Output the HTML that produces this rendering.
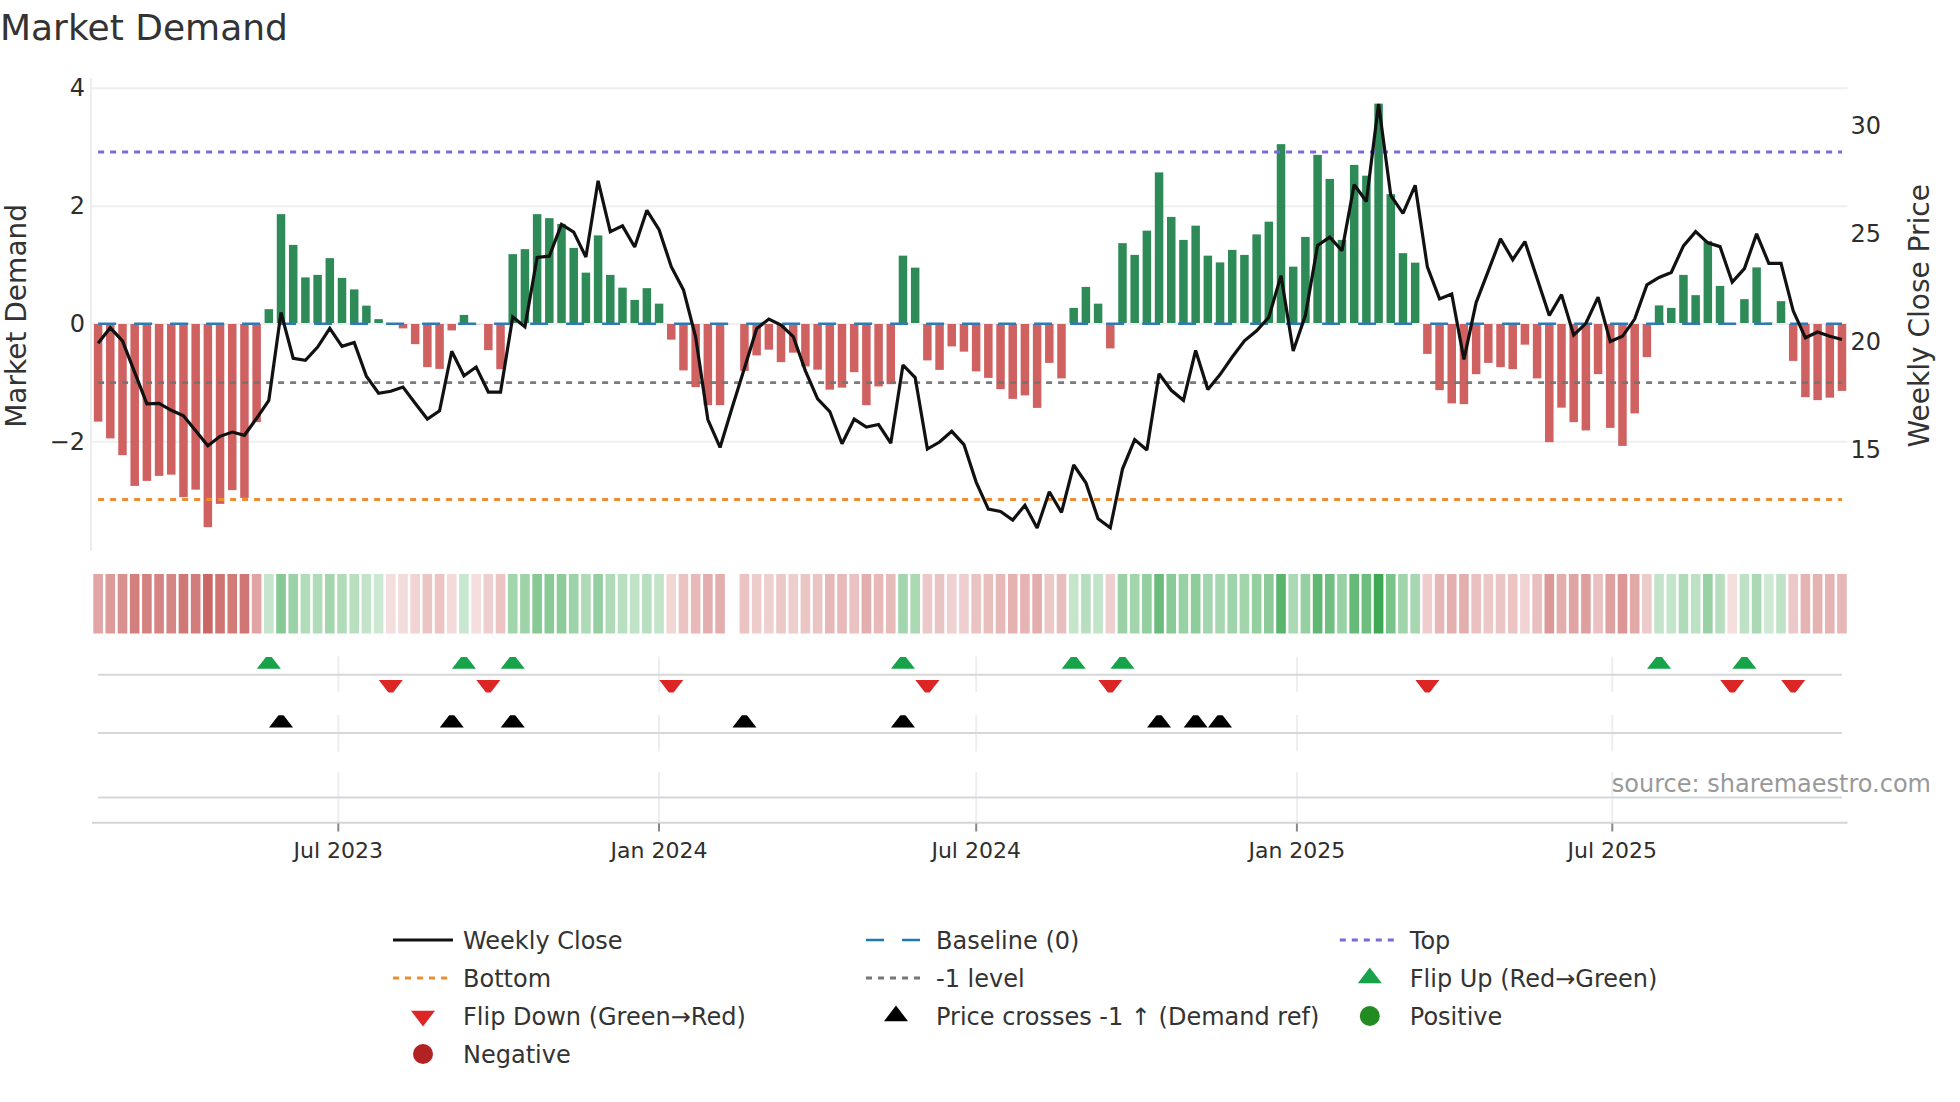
<!DOCTYPE html><html><head><meta charset="utf-8"><title>Market Demand</title><style>html,body{margin:0;padding:0;background:#fff}svg{display:block}text{font-family:"DejaVu Sans","Liberation Sans",sans-serif}</style></head><body>
<svg width="1960" height="1102" viewBox="0 0 1960 1102">
<rect width="1960" height="1102" fill="#fff"/>
<line x1="92" x2="1847.5" y1="88.25" y2="88.25" stroke="#edeff2" stroke-width="2"/>
<line x1="92" x2="1847.5" y1="206.2" y2="206.2" stroke="#edeff2" stroke-width="2"/>
<line x1="92" x2="1847.5" y1="323.9" y2="323.9" stroke="#edeff2" stroke-width="2"/>
<line x1="92" x2="1847.5" y1="441.7" y2="441.7" stroke="#edeff2" stroke-width="2"/>
<line x1="91" x2="91" y1="78" y2="551" stroke="#ededf0" stroke-width="2"/>
<g fill="#2e8b57"><rect x="264.58" y="309.15" width="8.5" height="13.85"/><rect x="276.77" y="214.15" width="8.5" height="108.85"/><rect x="288.97" y="244.90" width="8.5" height="78.10"/><rect x="301.16" y="277.40" width="8.5" height="45.60"/><rect x="313.36" y="274.90" width="8.5" height="48.10"/><rect x="325.56" y="258.15" width="8.5" height="64.85"/><rect x="337.75" y="277.90" width="8.5" height="45.10"/><rect x="349.95" y="289.40" width="8.5" height="33.60"/><rect x="362.14" y="305.65" width="8.5" height="17.35"/><rect x="374.34" y="319.15" width="8.5" height="3.85"/><rect x="459.70" y="314.90" width="8.5" height="8.10"/><rect x="508.48" y="254.15" width="8.5" height="68.85"/><rect x="520.67" y="249.15" width="8.5" height="73.85"/><rect x="532.87" y="214.15" width="8.5" height="108.85"/><rect x="545.07" y="218.15" width="8.5" height="104.85"/><rect x="557.26" y="223.90" width="8.5" height="99.10"/><rect x="569.46" y="247.90" width="8.5" height="75.10"/><rect x="581.65" y="272.65" width="8.5" height="50.35"/><rect x="593.85" y="235.40" width="8.5" height="87.60"/><rect x="606.04" y="274.90" width="8.5" height="48.10"/><rect x="618.24" y="287.65" width="8.5" height="35.35"/><rect x="630.43" y="299.90" width="8.5" height="23.10"/><rect x="642.62" y="288.15" width="8.5" height="34.85"/><rect x="654.82" y="303.65" width="8.5" height="19.35"/><rect x="898.72" y="255.65" width="8.5" height="67.35"/><rect x="910.92" y="267.65" width="8.5" height="55.35"/><rect x="1069.45" y="307.90" width="8.5" height="15.10"/><rect x="1081.64" y="286.90" width="8.5" height="36.10"/><rect x="1093.84" y="303.65" width="8.5" height="19.35"/><rect x="1118.23" y="243.15" width="8.5" height="79.85"/><rect x="1130.42" y="254.90" width="8.5" height="68.10"/><rect x="1142.62" y="230.65" width="8.5" height="92.35"/><rect x="1154.81" y="172.40" width="8.5" height="150.60"/><rect x="1167.01" y="216.90" width="8.5" height="106.10"/><rect x="1179.20" y="239.90" width="8.5" height="83.10"/><rect x="1191.40" y="225.65" width="8.5" height="97.35"/><rect x="1203.60" y="255.65" width="8.5" height="67.35"/><rect x="1215.79" y="262.40" width="8.5" height="60.60"/><rect x="1227.98" y="249.90" width="8.5" height="73.10"/><rect x="1240.18" y="254.90" width="8.5" height="68.10"/><rect x="1252.38" y="234.40" width="8.5" height="88.60"/><rect x="1264.57" y="221.65" width="8.5" height="101.35"/><rect x="1276.76" y="144.15" width="8.5" height="178.85"/><rect x="1288.96" y="266.65" width="8.5" height="56.35"/><rect x="1301.15" y="236.90" width="8.5" height="86.10"/><rect x="1313.35" y="154.90" width="8.5" height="168.10"/><rect x="1325.54" y="178.90" width="8.5" height="144.10"/><rect x="1337.74" y="239.90" width="8.5" height="83.10"/><rect x="1349.93" y="164.90" width="8.5" height="158.10"/><rect x="1362.13" y="175.65" width="8.5" height="147.35"/><rect x="1374.33" y="103.65" width="8.5" height="219.35"/><rect x="1386.52" y="194.15" width="8.5" height="128.85"/><rect x="1398.71" y="253.15" width="8.5" height="69.85"/><rect x="1410.91" y="262.65" width="8.5" height="60.35"/><rect x="1654.81" y="305.40" width="8.5" height="17.60"/><rect x="1667.00" y="307.90" width="8.5" height="15.10"/><rect x="1679.20" y="274.90" width="8.5" height="48.10"/><rect x="1691.39" y="295.15" width="8.5" height="27.85"/><rect x="1703.59" y="241.15" width="8.5" height="81.85"/><rect x="1715.78" y="285.90" width="8.5" height="37.10"/><rect x="1740.17" y="299.15" width="8.5" height="23.85"/><rect x="1752.37" y="267.40" width="8.5" height="55.60"/><rect x="1764.57" y="322.70" width="8.5" height="0.30"/><rect x="1776.76" y="301.15" width="8.5" height="21.85"/></g>
<g fill="#cd5c5c" fill-opacity="0.97"><rect x="93.85" y="324.0" width="8.5" height="97.65"/><rect x="106.04" y="324.0" width="8.5" height="114.40"/><rect x="118.24" y="324.0" width="8.5" height="131.15"/><rect x="130.44" y="324.0" width="8.5" height="161.90"/><rect x="142.63" y="324.0" width="8.5" height="156.90"/><rect x="154.82" y="324.0" width="8.5" height="151.90"/><rect x="167.02" y="324.0" width="8.5" height="150.65"/><rect x="179.22" y="324.0" width="8.5" height="173.15"/><rect x="191.41" y="324.0" width="8.5" height="165.65"/><rect x="203.60" y="324.0" width="8.5" height="203.15"/><rect x="215.80" y="324.0" width="8.5" height="179.90"/><rect x="228.00" y="324.0" width="8.5" height="166.15"/><rect x="240.19" y="324.0" width="8.5" height="173.90"/><rect x="252.38" y="324.0" width="8.5" height="98.15"/><rect x="386.53" y="324.0" width="8.5" height="0.50"/><rect x="398.73" y="324.0" width="8.5" height="4.40"/><rect x="410.92" y="324.0" width="8.5" height="20.15"/><rect x="423.12" y="324.0" width="8.5" height="43.15"/><rect x="435.31" y="324.0" width="8.5" height="44.90"/><rect x="447.50" y="324.0" width="8.5" height="6.40"/><rect x="471.89" y="324.0" width="8.5" height="0.20"/><rect x="484.09" y="324.0" width="8.5" height="26.15"/><rect x="496.28" y="324.0" width="8.5" height="45.15"/><rect x="667.01" y="324.0" width="8.5" height="15.65"/><rect x="679.21" y="324.0" width="8.5" height="46.40"/><rect x="691.41" y="324.0" width="8.5" height="63.15"/><rect x="703.60" y="324.0" width="8.5" height="81.15"/><rect x="715.80" y="324.0" width="8.5" height="81.15"/><rect x="740.19" y="324.0" width="8.5" height="46.90"/><rect x="752.38" y="324.0" width="8.5" height="31.40"/><rect x="764.58" y="324.0" width="8.5" height="25.65"/><rect x="776.77" y="324.0" width="8.5" height="38.15"/><rect x="788.97" y="324.0" width="8.5" height="28.65"/><rect x="801.16" y="324.0" width="8.5" height="42.40"/><rect x="813.36" y="324.0" width="8.5" height="45.65"/><rect x="825.55" y="324.0" width="8.5" height="65.65"/><rect x="837.75" y="324.0" width="8.5" height="63.65"/><rect x="849.94" y="324.0" width="8.5" height="48.15"/><rect x="862.13" y="324.0" width="8.5" height="81.15"/><rect x="874.33" y="324.0" width="8.5" height="62.40"/><rect x="886.53" y="324.0" width="8.5" height="60.15"/><rect x="923.11" y="324.0" width="8.5" height="36.40"/><rect x="935.31" y="324.0" width="8.5" height="45.90"/><rect x="947.50" y="324.0" width="8.5" height="22.40"/><rect x="959.70" y="324.0" width="8.5" height="27.65"/><rect x="971.89" y="324.0" width="8.5" height="47.40"/><rect x="984.09" y="324.0" width="8.5" height="53.90"/><rect x="996.28" y="324.0" width="8.5" height="65.15"/><rect x="1008.48" y="324.0" width="8.5" height="74.90"/><rect x="1020.67" y="324.0" width="8.5" height="71.40"/><rect x="1032.87" y="324.0" width="8.5" height="83.90"/><rect x="1045.06" y="324.0" width="8.5" height="38.90"/><rect x="1057.25" y="324.0" width="8.5" height="54.40"/><rect x="1106.04" y="324.0" width="8.5" height="24.40"/><rect x="1423.11" y="324.0" width="8.5" height="29.90"/><rect x="1435.30" y="324.0" width="8.5" height="66.15"/><rect x="1447.49" y="324.0" width="8.5" height="79.40"/><rect x="1459.69" y="324.0" width="8.5" height="80.15"/><rect x="1471.88" y="324.0" width="8.5" height="50.15"/><rect x="1484.08" y="324.0" width="8.5" height="38.90"/><rect x="1496.27" y="324.0" width="8.5" height="43.15"/><rect x="1508.47" y="324.0" width="8.5" height="45.15"/><rect x="1520.66" y="324.0" width="8.5" height="20.65"/><rect x="1532.86" y="324.0" width="8.5" height="54.40"/><rect x="1545.05" y="324.0" width="8.5" height="118.15"/><rect x="1557.25" y="324.0" width="8.5" height="83.65"/><rect x="1569.44" y="324.0" width="8.5" height="98.15"/><rect x="1581.64" y="324.0" width="8.5" height="106.40"/><rect x="1593.84" y="324.0" width="8.5" height="50.15"/><rect x="1606.03" y="324.0" width="8.5" height="103.90"/><rect x="1618.22" y="324.0" width="8.5" height="121.90"/><rect x="1630.42" y="324.0" width="8.5" height="89.40"/><rect x="1642.62" y="324.0" width="8.5" height="33.15"/><rect x="1727.98" y="324.0" width="8.5" height="0.30"/><rect x="1788.95" y="324.0" width="8.5" height="36.90"/><rect x="1801.15" y="324.0" width="8.5" height="73.15"/><rect x="1813.35" y="324.0" width="8.5" height="76.15"/><rect x="1825.54" y="324.0" width="8.5" height="73.65"/><rect x="1837.73" y="324.0" width="8.5" height="66.90"/></g>
<line x1="98.1" x2="1841.985" y1="382.7" y2="382.7" stroke="#737373" stroke-opacity="0.95" stroke-width="2.7" stroke-dasharray="6,6"/>
<line x1="98.1" x2="1841.985" y1="323.7" y2="323.7" stroke="#2f7ab5" stroke-width="2.4" stroke-dasharray="18,18"/>
<line x1="98.1" x2="1841.985" y1="152" y2="152" stroke="#7b68d9" stroke-width="3" stroke-dasharray="6,6"/>
<line x1="98.1" x2="1841.985" y1="499.5" y2="499.5" stroke="#f08c2e" stroke-width="3" stroke-dasharray="6,6"/>
<polyline points="98.10,343.30 110.29,327.80 122.49,340.80 134.69,372.30 146.88,403.80 159.07,403.30 171.27,410.30 183.47,415.80 195.66,430.80 207.85,445.80 220.05,436.30 232.25,432.05 244.44,435.30 256.63,418.30 268.83,400.30 281.02,312.50 293.22,358.30 305.41,360.30 317.61,347.05 329.81,328.30 342.00,346.30 354.20,342.55 366.39,376.30 378.59,393.30 390.78,391.30 402.98,387.05 415.17,403.30 427.37,419.05 439.56,410.80 451.75,351.25 463.95,375.80 476.14,367.05 488.34,392.05 500.53,392.05 512.73,317.05 524.92,326.80 537.12,257.40 549.32,256.15 561.51,224.40 573.71,232.15 585.90,257.05 598.10,180.85 610.29,231.65 622.49,225.90 634.68,247.05 646.88,210.35 659.07,229.65 671.26,266.65 683.46,289.90 695.66,337.05 707.85,419.55 720.05,447.45 732.24,407.30 744.44,368.30 756.63,328.80 768.83,319.05 781.02,325.05 793.22,336.55 805.41,370.80 817.61,398.80 829.80,411.55 842.00,443.70 854.19,419.05 866.38,427.05 878.58,424.55 890.78,443.20 902.97,365.00 915.17,377.55 927.36,449.05 939.56,442.05 951.75,431.30 963.95,444.55 976.14,482.05 988.34,509.05 1000.53,511.55 1012.73,520.05 1024.92,505.30 1037.12,527.95 1049.31,491.75 1061.50,512.45 1073.70,465.00 1085.89,482.80 1098.09,518.80 1110.29,527.80 1122.48,469.05 1134.67,439.55 1146.87,449.95 1159.06,373.75 1171.26,390.30 1183.45,400.30 1195.65,350.50 1207.85,389.45 1220.04,374.55 1232.23,357.05 1244.43,340.80 1256.62,330.80 1268.82,317.30 1281.01,275.60 1293.21,350.95 1305.40,315.30 1317.60,245.40 1329.79,237.15 1341.99,250.80 1354.18,184.60 1366.38,201.55 1378.58,103.85 1390.77,195.40 1402.96,213.30 1415.16,185.35 1427.36,266.90 1439.55,298.90 1451.74,293.90 1463.94,359.45 1476.13,302.55 1488.33,270.90 1500.52,238.85 1512.72,259.65 1524.91,241.60 1537.11,278.40 1549.30,315.45 1561.50,294.60 1573.69,335.05 1585.89,323.30 1598.09,297.10 1610.28,341.55 1622.47,336.30 1634.67,319.05 1646.87,284.90 1659.06,277.40 1671.25,272.40 1683.45,245.90 1695.64,231.65 1707.84,242.90 1720.03,246.65 1732.23,282.15 1744.42,268.65 1756.62,233.85 1768.82,263.40 1781.01,263.40 1793.20,310.80 1805.40,337.80 1817.60,332.05 1829.79,336.30 1841.98,339.55" fill="none" stroke="#111" stroke-width="3.2" stroke-linejoin="miter" stroke-miterlimit="2"/>
<g><rect x="93.30" y="574" width="9.6" height="59.5" fill="rgb(224, 165, 164)"/><rect x="105.49" y="574" width="9.6" height="59.5" fill="rgb(220, 155, 153)"/><rect x="117.69" y="574" width="9.6" height="59.5" fill="rgb(217, 145, 143)"/><rect x="129.88" y="574" width="9.6" height="59.5" fill="rgb(211, 127, 125)"/><rect x="142.08" y="574" width="9.6" height="59.5" fill="rgb(212, 130, 128)"/><rect x="154.27" y="574" width="9.6" height="59.5" fill="rgb(213, 132, 131)"/><rect x="166.47" y="574" width="9.6" height="59.5" fill="rgb(213, 133, 132)"/><rect x="178.66" y="574" width="9.6" height="59.5" fill="rgb(208, 120, 118)"/><rect x="190.86" y="574" width="9.6" height="59.5" fill="rgb(210, 124, 123)"/><rect x="203.05" y="574" width="9.6" height="59.5" fill="rgb(202, 102, 100)"/><rect x="215.25" y="574" width="9.6" height="59.5" fill="rgb(207, 116, 114)"/><rect x="227.44" y="574" width="9.6" height="59.5" fill="rgb(210, 124, 122)"/><rect x="239.64" y="574" width="9.6" height="59.5" fill="rgb(208, 119, 118)"/><rect x="251.83" y="574" width="9.6" height="59.5" fill="rgb(224, 164, 163)"/><rect x="264.03" y="574" width="9.6" height="59.5" fill="rgb(198, 229, 204)"/><rect x="276.22" y="574" width="9.6" height="59.5" fill="rgb(135, 201, 149)"/><rect x="288.42" y="574" width="9.6" height="59.5" fill="rgb(155, 210, 167)"/><rect x="300.61" y="574" width="9.6" height="59.5" fill="rgb(177, 220, 186)"/><rect x="312.81" y="574" width="9.6" height="59.5" fill="rgb(175, 219, 184)"/><rect x="325.00" y="574" width="9.6" height="59.5" fill="rgb(164, 214, 174)"/><rect x="337.20" y="574" width="9.6" height="59.5" fill="rgb(177, 220, 186)"/><rect x="349.40" y="574" width="9.6" height="59.5" fill="rgb(185, 223, 193)"/><rect x="361.59" y="574" width="9.6" height="59.5" fill="rgb(195, 228, 202)"/><rect x="373.79" y="574" width="9.6" height="59.5" fill="rgb(204, 232, 210)"/><rect x="385.98" y="574" width="9.6" height="59.5" fill="rgb(244, 223, 222)"/><rect x="398.18" y="574" width="9.6" height="59.5" fill="rgb(243, 220, 220)"/><rect x="410.37" y="574" width="9.6" height="59.5" fill="rgb(240, 211, 210)"/><rect x="422.56" y="574" width="9.6" height="59.5" fill="rgb(235, 197, 196)"/><rect x="434.76" y="574" width="9.6" height="59.5" fill="rgb(235, 196, 195)"/><rect x="446.95" y="574" width="9.6" height="59.5" fill="rgb(243, 219, 219)"/><rect x="459.15" y="574" width="9.6" height="59.5" fill="rgb(201, 231, 208)"/><rect x="471.34" y="574" width="9.6" height="59.5" fill="rgb(244, 223, 222)"/><rect x="483.54" y="574" width="9.6" height="59.5" fill="rgb(238, 207, 207)"/><rect x="495.73" y="574" width="9.6" height="59.5" fill="rgb(235, 196, 195)"/><rect x="507.93" y="574" width="9.6" height="59.5" fill="rgb(161, 213, 172)"/><rect x="520.12" y="574" width="9.6" height="59.5" fill="rgb(158, 211, 169)"/><rect x="532.32" y="574" width="9.6" height="59.5" fill="rgb(135, 201, 149)"/><rect x="544.52" y="574" width="9.6" height="59.5" fill="rgb(138, 202, 151)"/><rect x="556.71" y="574" width="9.6" height="59.5" fill="rgb(141, 204, 154)"/><rect x="568.91" y="574" width="9.6" height="59.5" fill="rgb(157, 211, 168)"/><rect x="581.10" y="574" width="9.6" height="59.5" fill="rgb(174, 218, 183)"/><rect x="593.30" y="574" width="9.6" height="59.5" fill="rgb(149, 207, 161)"/><rect x="605.49" y="574" width="9.6" height="59.5" fill="rgb(175, 219, 184)"/><rect x="617.69" y="574" width="9.6" height="59.5" fill="rgb(183, 223, 192)"/><rect x="629.88" y="574" width="9.6" height="59.5" fill="rgb(192, 226, 199)"/><rect x="642.08" y="574" width="9.6" height="59.5" fill="rgb(184, 223, 192)"/><rect x="654.27" y="574" width="9.6" height="59.5" fill="rgb(194, 228, 201)"/><rect x="666.47" y="574" width="9.6" height="59.5" fill="rgb(241, 214, 213)"/><rect x="678.66" y="574" width="9.6" height="59.5" fill="rgb(234, 195, 194)"/><rect x="690.86" y="574" width="9.6" height="59.5" fill="rgb(231, 185, 184)"/><rect x="703.05" y="574" width="9.6" height="59.5" fill="rgb(227, 175, 174)"/><rect x="715.25" y="574" width="9.6" height="59.5" fill="rgb(227, 175, 174)"/><rect x="739.64" y="574" width="9.6" height="59.5" fill="rgb(234, 195, 194)"/><rect x="751.83" y="574" width="9.6" height="59.5" fill="rgb(237, 204, 203)"/><rect x="764.03" y="574" width="9.6" height="59.5" fill="rgb(239, 208, 207)"/><rect x="776.22" y="574" width="9.6" height="59.5" fill="rgb(236, 200, 199)"/><rect x="788.42" y="574" width="9.6" height="59.5" fill="rgb(238, 206, 205)"/><rect x="800.61" y="574" width="9.6" height="59.5" fill="rgb(235, 198, 197)"/><rect x="812.81" y="574" width="9.6" height="59.5" fill="rgb(234, 196, 195)"/><rect x="825.00" y="574" width="9.6" height="59.5" fill="rgb(230, 184, 183)"/><rect x="837.20" y="574" width="9.6" height="59.5" fill="rgb(231, 185, 184)"/><rect x="849.39" y="574" width="9.6" height="59.5" fill="rgb(234, 194, 193)"/><rect x="861.59" y="574" width="9.6" height="59.5" fill="rgb(227, 175, 174)"/><rect x="873.78" y="574" width="9.6" height="59.5" fill="rgb(231, 186, 185)"/><rect x="885.98" y="574" width="9.6" height="59.5" fill="rgb(231, 187, 186)"/><rect x="898.17" y="574" width="9.6" height="59.5" fill="rgb(162, 213, 173)"/><rect x="910.37" y="574" width="9.6" height="59.5" fill="rgb(170, 217, 180)"/><rect x="922.56" y="574" width="9.6" height="59.5" fill="rgb(236, 201, 200)"/><rect x="934.76" y="574" width="9.6" height="59.5" fill="rgb(234, 196, 195)"/><rect x="946.95" y="574" width="9.6" height="59.5" fill="rgb(239, 209, 209)"/><rect x="959.15" y="574" width="9.6" height="59.5" fill="rgb(238, 206, 206)"/><rect x="971.34" y="574" width="9.6" height="59.5" fill="rgb(234, 195, 194)"/><rect x="983.54" y="574" width="9.6" height="59.5" fill="rgb(233, 191, 190)"/><rect x="995.73" y="574" width="9.6" height="59.5" fill="rgb(230, 184, 183)"/><rect x="1007.93" y="574" width="9.6" height="59.5" fill="rgb(228, 178, 177)"/><rect x="1020.12" y="574" width="9.6" height="59.5" fill="rgb(229, 180, 179)"/><rect x="1032.32" y="574" width="9.6" height="59.5" fill="rgb(227, 173, 172)"/><rect x="1044.51" y="574" width="9.6" height="59.5" fill="rgb(236, 200, 199)"/><rect x="1056.70" y="574" width="9.6" height="59.5" fill="rgb(233, 190, 190)"/><rect x="1068.90" y="574" width="9.6" height="59.5" fill="rgb(197, 229, 203)"/><rect x="1081.10" y="574" width="9.6" height="59.5" fill="rgb(183, 223, 191)"/><rect x="1093.29" y="574" width="9.6" height="59.5" fill="rgb(194, 228, 201)"/><rect x="1105.49" y="574" width="9.6" height="59.5" fill="rgb(239, 208, 208)"/><rect x="1117.68" y="574" width="9.6" height="59.5" fill="rgb(154, 210, 166)"/><rect x="1129.88" y="574" width="9.6" height="59.5" fill="rgb(162, 213, 172)"/><rect x="1142.07" y="574" width="9.6" height="59.5" fill="rgb(146, 206, 158)"/><rect x="1154.26" y="574" width="9.6" height="59.5" fill="rgb(107, 188, 124)"/><rect x="1166.46" y="574" width="9.6" height="59.5" fill="rgb(137, 202, 150)"/><rect x="1178.65" y="574" width="9.6" height="59.5" fill="rgb(152, 209, 164)"/><rect x="1190.85" y="574" width="9.6" height="59.5" fill="rgb(143, 204, 155)"/><rect x="1203.05" y="574" width="9.6" height="59.5" fill="rgb(162, 213, 173)"/><rect x="1215.24" y="574" width="9.6" height="59.5" fill="rgb(167, 215, 177)"/><rect x="1227.43" y="574" width="9.6" height="59.5" fill="rgb(159, 212, 170)"/><rect x="1239.63" y="574" width="9.6" height="59.5" fill="rgb(162, 213, 172)"/><rect x="1251.83" y="574" width="9.6" height="59.5" fill="rgb(148, 207, 160)"/><rect x="1264.02" y="574" width="9.6" height="59.5" fill="rgb(140, 203, 153)"/><rect x="1276.21" y="574" width="9.6" height="59.5" fill="rgb(89, 180, 108)"/><rect x="1288.41" y="574" width="9.6" height="59.5" fill="rgb(170, 217, 179)"/><rect x="1300.61" y="574" width="9.6" height="59.5" fill="rgb(150, 208, 162)"/><rect x="1312.80" y="574" width="9.6" height="59.5" fill="rgb(96, 183, 114)"/><rect x="1324.99" y="574" width="9.6" height="59.5" fill="rgb(112, 190, 128)"/><rect x="1337.19" y="574" width="9.6" height="59.5" fill="rgb(152, 209, 164)"/><rect x="1349.38" y="574" width="9.6" height="59.5" fill="rgb(102, 186, 120)"/><rect x="1361.58" y="574" width="9.6" height="59.5" fill="rgb(109, 189, 126)"/><rect x="1373.78" y="574" width="9.6" height="59.5" fill="rgb(62, 168, 84)"/><rect x="1385.97" y="574" width="9.6" height="59.5" fill="rgb(122, 195, 137)"/><rect x="1398.16" y="574" width="9.6" height="59.5" fill="rgb(161, 212, 171)"/><rect x="1410.36" y="574" width="9.6" height="59.5" fill="rgb(167, 215, 177)"/><rect x="1422.56" y="574" width="9.6" height="59.5" fill="rgb(238, 205, 204)"/><rect x="1434.75" y="574" width="9.6" height="59.5" fill="rgb(230, 183, 183)"/><rect x="1446.94" y="574" width="9.6" height="59.5" fill="rgb(227, 176, 175)"/><rect x="1459.14" y="574" width="9.6" height="59.5" fill="rgb(227, 175, 174)"/><rect x="1471.34" y="574" width="9.6" height="59.5" fill="rgb(234, 193, 192)"/><rect x="1483.53" y="574" width="9.6" height="59.5" fill="rgb(236, 200, 199)"/><rect x="1495.72" y="574" width="9.6" height="59.5" fill="rgb(235, 197, 196)"/><rect x="1507.92" y="574" width="9.6" height="59.5" fill="rgb(235, 196, 195)"/><rect x="1520.12" y="574" width="9.6" height="59.5" fill="rgb(240, 211, 210)"/><rect x="1532.31" y="574" width="9.6" height="59.5" fill="rgb(233, 190, 190)"/><rect x="1544.50" y="574" width="9.6" height="59.5" fill="rgb(220, 153, 151)"/><rect x="1556.70" y="574" width="9.6" height="59.5" fill="rgb(227, 173, 172)"/><rect x="1568.89" y="574" width="9.6" height="59.5" fill="rgb(224, 164, 163)"/><rect x="1581.09" y="574" width="9.6" height="59.5" fill="rgb(222, 160, 158)"/><rect x="1593.29" y="574" width="9.6" height="59.5" fill="rgb(234, 193, 192)"/><rect x="1605.48" y="574" width="9.6" height="59.5" fill="rgb(222, 161, 160)"/><rect x="1617.67" y="574" width="9.6" height="59.5" fill="rgb(219, 150, 149)"/><rect x="1629.87" y="574" width="9.6" height="59.5" fill="rgb(225, 170, 169)"/><rect x="1642.07" y="574" width="9.6" height="59.5" fill="rgb(237, 203, 202)"/><rect x="1654.26" y="574" width="9.6" height="59.5" fill="rgb(195, 228, 202)"/><rect x="1666.45" y="574" width="9.6" height="59.5" fill="rgb(197, 229, 203)"/><rect x="1678.65" y="574" width="9.6" height="59.5" fill="rgb(175, 219, 184)"/><rect x="1690.85" y="574" width="9.6" height="59.5" fill="rgb(188, 225, 196)"/><rect x="1703.04" y="574" width="9.6" height="59.5" fill="rgb(153, 209, 164)"/><rect x="1715.23" y="574" width="9.6" height="59.5" fill="rgb(182, 222, 191)"/><rect x="1727.43" y="574" width="9.6" height="59.5" fill="rgb(244, 223, 222)"/><rect x="1739.62" y="574" width="9.6" height="59.5" fill="rgb(191, 226, 198)"/><rect x="1751.82" y="574" width="9.6" height="59.5" fill="rgb(170, 217, 180)"/><rect x="1764.02" y="574" width="9.6" height="59.5" fill="rgb(207, 233, 212)"/><rect x="1776.21" y="574" width="9.6" height="59.5" fill="rgb(192, 227, 200)"/><rect x="1788.40" y="574" width="9.6" height="59.5" fill="rgb(236, 201, 200)"/><rect x="1800.60" y="574" width="9.6" height="59.5" fill="rgb(229, 179, 178)"/><rect x="1812.80" y="574" width="9.6" height="59.5" fill="rgb(228, 178, 177)"/><rect x="1824.99" y="574" width="9.6" height="59.5" fill="rgb(229, 179, 178)"/><rect x="1837.18" y="574" width="9.6" height="59.5" fill="rgb(230, 183, 182)"/></g>
<line x1="338.3" x2="338.3" y1="656.5" y2="692" stroke="#eceef1" stroke-width="2"/>
<line x1="338.3" x2="338.3" y1="715" y2="751.5" stroke="#eceef1" stroke-width="2"/>
<line x1="338.3" x2="338.3" y1="772" y2="822" stroke="#eceef1" stroke-width="2"/>
<line x1="659" x2="659" y1="656.5" y2="692" stroke="#eceef1" stroke-width="2"/>
<line x1="659" x2="659" y1="715" y2="751.5" stroke="#eceef1" stroke-width="2"/>
<line x1="659" x2="659" y1="772" y2="822" stroke="#eceef1" stroke-width="2"/>
<line x1="976.2" x2="976.2" y1="656.5" y2="692" stroke="#eceef1" stroke-width="2"/>
<line x1="976.2" x2="976.2" y1="715" y2="751.5" stroke="#eceef1" stroke-width="2"/>
<line x1="976.2" x2="976.2" y1="772" y2="822" stroke="#eceef1" stroke-width="2"/>
<line x1="1296.9" x2="1296.9" y1="656.5" y2="692" stroke="#eceef1" stroke-width="2"/>
<line x1="1296.9" x2="1296.9" y1="715" y2="751.5" stroke="#eceef1" stroke-width="2"/>
<line x1="1296.9" x2="1296.9" y1="772" y2="822" stroke="#eceef1" stroke-width="2"/>
<line x1="1612.3" x2="1612.3" y1="656.5" y2="692" stroke="#eceef1" stroke-width="2"/>
<line x1="1612.3" x2="1612.3" y1="715" y2="751.5" stroke="#eceef1" stroke-width="2"/>
<line x1="1612.3" x2="1612.3" y1="772" y2="822" stroke="#eceef1" stroke-width="2"/>
<line x1="98.1" x2="1841.985" y1="674.7" y2="674.7" stroke="#d5d7d9" stroke-width="2"/>
<line x1="98.1" x2="1841.985" y1="733" y2="733" stroke="#d5d7d9" stroke-width="2"/>
<line x1="98.1" x2="1841.985" y1="797.5" y2="797.5" stroke="#d5d7d9" stroke-width="2"/>
<line x1="92" x2="1847.5" y1="822.7" y2="822.7" stroke="#d3d5d8" stroke-width="2"/>
<line x1="338.3" x2="338.3" y1="823.5" y2="831.5" stroke="#888" stroke-width="2"/>
<line x1="659" x2="659" y1="823.5" y2="831.5" stroke="#888" stroke-width="2"/>
<line x1="976.2" x2="976.2" y1="823.5" y2="831.5" stroke="#888" stroke-width="2"/>
<line x1="1296.9" x2="1296.9" y1="823.5" y2="831.5" stroke="#888" stroke-width="2"/>
<line x1="1612.3" x2="1612.3" y1="823.5" y2="831.5" stroke="#888" stroke-width="2"/>
<defs><clipPath id="c1"><rect x="90" y="657" width="1760" height="35.6"/></clipPath><clipPath id="c2"><rect x="90" y="715.3" width="1760" height="36"/></clipPath></defs>
<g clip-path="url(#c1)"><path fill="#16a34a" d="M256.82,668.85H280.84L268.83,653.25ZM451.94,668.85H475.96L463.95,653.25ZM500.72,668.85H524.74L512.73,653.25ZM890.96,668.85H914.98L902.97,653.25ZM1061.69,668.85H1085.71L1073.70,653.25ZM1110.47,668.85H1134.49L1122.48,653.25ZM1647.05,668.85H1671.07L1659.06,653.25ZM1732.42,668.85H1756.43L1744.42,653.25Z"/><path fill="#dc2626" d="M378.77,680.00H402.79L390.78,695.60ZM476.33,680.00H500.35L488.34,695.60ZM659.26,680.00H683.27L671.26,695.60ZM915.35,680.00H939.37L927.36,695.60ZM1098.28,680.00H1122.29L1110.29,695.60ZM1415.35,680.00H1439.36L1427.36,695.60ZM1720.22,680.00H1744.24L1732.23,695.60ZM1781.20,680.00H1805.21L1793.20,695.60Z"/></g>
<g clip-path="url(#c2)"><path fill="#000" d="M269.02,727.50H293.03L281.02,711.90ZM439.75,727.50H463.76L451.75,711.90ZM500.72,727.50H524.74L512.73,711.90ZM732.43,727.50H756.44L744.44,711.90ZM890.96,727.50H914.98L902.97,711.90ZM1147.06,727.50H1171.07L1159.06,711.90ZM1183.64,727.50H1207.66L1195.65,711.90ZM1208.03,727.50H1232.05L1220.04,711.90Z"/></g>
<text x="0" y="40" font-size="36" fill="#333">Market Demand</text>
<text x="85" y="96.0" font-size="24" fill="#2e2e2e" text-anchor="end">4</text>
<text x="85" y="214.2" font-size="24" fill="#2e2e2e" text-anchor="end">2</text>
<text x="85" y="331.7" font-size="24" fill="#2e2e2e" text-anchor="end">0</text>
<text x="85" y="449.7" font-size="24" fill="#2e2e2e" text-anchor="end">−2</text>
<text x="1850.5" y="134.2" font-size="24" fill="#2e2e2e">30</text>
<text x="1850.5" y="242.2" font-size="24" fill="#2e2e2e">25</text>
<text x="1850.5" y="350.2" font-size="24" fill="#2e2e2e">20</text>
<text x="1850.5" y="458.2" font-size="24" fill="#2e2e2e">15</text>
<text x="338.3" y="857.5" font-size="22" fill="#2e2e2e" text-anchor="middle">Jul 2023</text>
<text x="659" y="857.5" font-size="22" fill="#2e2e2e" text-anchor="middle">Jan 2024</text>
<text x="976.2" y="857.5" font-size="22" fill="#2e2e2e" text-anchor="middle">Jul 2024</text>
<text x="1296.9" y="857.5" font-size="22" fill="#2e2e2e" text-anchor="middle">Jan 2025</text>
<text x="1612.3" y="857.5" font-size="22" fill="#2e2e2e" text-anchor="middle">Jul 2025</text>
<text transform="translate(26,315.9) rotate(-90)" font-size="28" fill="#333" text-anchor="middle">Market Demand</text>
<text transform="translate(1928.8,315.8) rotate(-90)" font-size="28" fill="#333" text-anchor="middle">Weekly Close Price</text>
<text x="1931" y="792" font-size="24" fill="#999" text-anchor="end">source: sharemaestro.com</text>
<line x1="393" x2="453" y1="940" y2="940" stroke="#111" stroke-width="3.2"/>
<text x="463" y="948.7" font-size="24" fill="#333">Weekly Close</text>
<line x1="866" x2="926" y1="940" y2="940" stroke="#1f77b4" stroke-width="2.4" stroke-dasharray="18,18"/>
<text x="936" y="948.7" font-size="24" fill="#333">Baseline (0)</text>
<line x1="1339.8" x2="1399.8" y1="940" y2="940" stroke="#7b68d9" stroke-width="3" stroke-dasharray="6,6"/>
<text x="1409.8" y="948.7" font-size="24" fill="#333">Top</text>
<line x1="393" x2="453" y1="978" y2="978" stroke="#f08c2e" stroke-width="3" stroke-dasharray="6,6"/>
<text x="463" y="986.7" font-size="24" fill="#333">Bottom</text>
<line x1="866" x2="926" y1="978" y2="978" stroke="#777" stroke-width="3" stroke-dasharray="6,6"/>
<text x="936" y="986.7" font-size="24" fill="#333">-1 level</text>
<path fill="#16a34a" d="M1357.80,983.20H1381.80L1369.80,967.61Z"/>
<text x="1409.8" y="986.7" font-size="24" fill="#333">Flip Up (Red→Green)</text>
<path fill="#dc2626" d="M411.00,1010.80H435.00L423.00,1026.39Z"/>
<text x="463" y="1024.7" font-size="24" fill="#333">Flip Down (Green→Red)</text>
<path fill="#000" d="M884.00,1021.20H908.00L896.00,1005.61Z"/>
<text x="936" y="1024.7" font-size="24" fill="#333">Price crosses -1 ↑ (Demand ref)</text>
<circle cx="1369.8" cy="1016" r="10" fill="#228b22"/>
<text x="1409.8" y="1024.7" font-size="24" fill="#333">Positive</text>
<circle cx="423" cy="1054" r="10" fill="#b22222"/>
<text x="463" y="1062.7" font-size="24" fill="#333">Negative</text>
</svg></body></html>
